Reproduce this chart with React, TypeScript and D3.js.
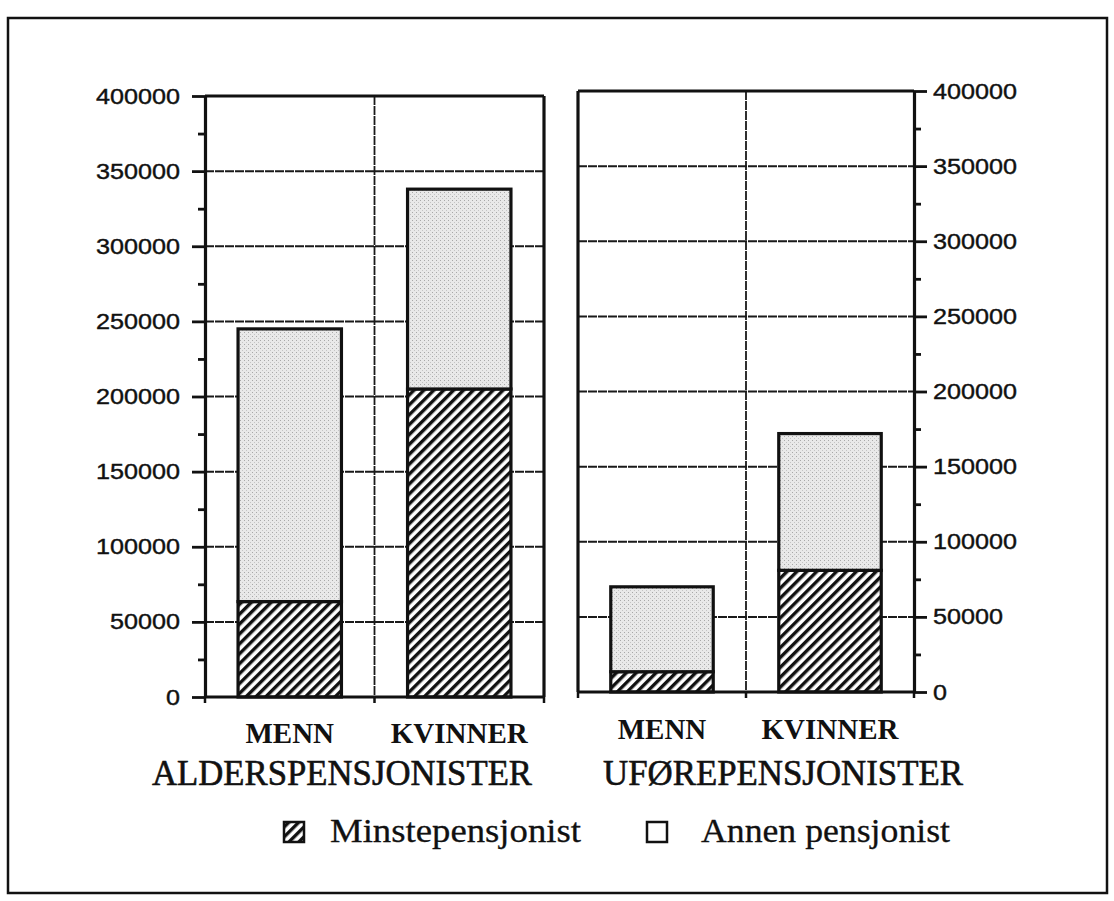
import React, { useEffect, useRef } from 'react';
import * as d3 from 'd3';

// data
const categories = ['MENN', 'KVINNER'];
const groupTitles = ['ALDERSPENSJONISTER', 'UFØREPENSJONISTER'];
const seriesNames = ['Minstepensjonist', 'Annen pensjonist'];
const alderMinste = [63500, 205000];
const alderAnnen = [181500, 133000];
const uforeMinste = [13500, 81000];
const uforeAnnen = [56500, 91000];
const yTicks = [0, 50000, 100000, 150000, 200000, 250000, 300000, 350000, 400000];
const minorTicks = [25000, 75000, 125000, 175000, 225000, 275000, 325000, 375000];

const serif = "'Liberation Serif', 'Times New Roman', serif";
const sans = "'Liberation Sans', Arial, sans-serif";

export default function App() {
  const ref = useRef<SVGSVGElement>(null);

  useEffect(() => {
    const svg = d3.select(ref.current);
    svg.selectAll('*').remove();

    const defs = svg.append('defs');
    const hatch = defs.append('pattern')
      .attr('id', 'hatch')
      .attr('patternUnits', 'userSpaceOnUse')
      .attr('width', 7)
      .attr('height', 7)
      .attr('patternTransform', 'rotate(45)');
    hatch.append('rect').attr('width', 7).attr('height', 7).attr('fill', '#fff');
    hatch.append('rect').attr('width', 3.4).attr('height', 7).attr('fill', '#111');

    const stipple = defs.append('pattern')
      .attr('id', 'stipple')
      .attr('patternUnits', 'userSpaceOnUse')
      .attr('width', 4)
      .attr('height', 4);
    stipple.append('rect').attr('width', 4).attr('height', 4).attr('fill', '#e9e9e9');
    stipple.append('rect').attr('width', 1).attr('height', 1).attr('fill', '#a8a8a8');
    stipple.append('rect').attr('x', 2).attr('y', 2).attr('width', 1).attr('height', 1).attr('fill', '#c4c4c4');

    // outer frame
    svg.append('rect')
      .attr('x', 8).attr('y', 18)
      .attr('width', 1099).attr('height', 875)
      .attr('fill', 'none').attr('stroke', '#111').attr('stroke-width', 2.5);

    const panels = [
      { title: groupTitles[0], minste: alderMinste, annen: alderAnnen, x0: 205, x1: 544, y0: 697, y1: 96, side: 'left', titleX: 342, titleLen: 380, labelY: 743 },
      { title: groupTitles[1], minste: uforeMinste, annen: uforeAnnen, x0: 578, x1: 914, y0: 692, y1: 91, side: 'right', titleX: 783, titleLen: 360, labelY: 739 }
    ];

    panels.forEach(p => {
      const x = d3.scaleBand().domain(categories).range([p.x0, p.x1]).paddingInner(0.39).paddingOuter(0.195);
      const y = d3.scaleLinear().domain([0, 400000]).range([p.y0, p.y1]);
      const bw = x.bandwidth();
      const mid = ((x('MENN') as number) + bw + (x('KVINNER') as number)) / 2;
      const g = svg.append('g');

      // grid
      g.selectAll('line.grid')
        .data(yTicks.filter(t => t > 0 && t < 400000))
        .join('line')
          .attr('class', 'grid')
          .attr('x1', p.x0).attr('x2', p.x1)
          .attr('y1', d => y(d)).attr('y2', d => y(d))
          .attr('stroke', '#1a1a1a').attr('stroke-width', 2).attr('stroke-dasharray', '9 1');
      g.append('line')
        .attr('x1', mid).attr('x2', mid)
        .attr('y1', p.y1).attr('y2', p.y0)
        .attr('stroke', '#1a1a1a').attr('stroke-width', 1.8).attr('stroke-dasharray', '9 1');

      // stacked bars
      const rows = categories.map((c, i) => ({ cat: c, minste: p.minste[i], annen: p.annen[i] }));
      const stacked = d3.stack<any>().keys(['minste', 'annen'])(rows);
      g.selectAll('g.layer')
        .data(stacked)
        .join('g')
          .attr('class', 'layer')
          .attr('fill', (d, i) => i === 0 ? 'url(#hatch)' : 'url(#stipple)')
        .selectAll('rect')
        .data(d => d)
        .join('rect')
          .attr('x', d => x(d.data.cat) as number)
          .attr('y', d => y(d[1]))
          .attr('width', bw)
          .attr('height', d => y(d[0]) - y(d[1]))
          .attr('stroke', '#111').attr('stroke-width', 3.2);

      // frame of the plot
      g.append('line').attr('x1', p.x0).attr('x2', p.x1).attr('y1', p.y1).attr('y2', p.y1)
        .attr('stroke', '#111').attr('stroke-width', 3.2);
      const otherX = p.side === 'left' ? p.x1 : p.x0;
      g.append('line').attr('x1', otherX).attr('x2', otherX).attr('y1', p.y1).attr('y2', p.y0)
        .attr('stroke', '#111').attr('stroke-width', 3.2);
      g.append('line').attr('x1', p.x0 - 1).attr('x2', p.x1 + 1).attr('y1', p.y0).attr('y2', p.y0)
        .attr('stroke', '#111').attr('stroke-width', 3.2);
      g.selectAll('line.xtick')
        .data([p.x0, mid, p.x1])
        .join('line')
          .attr('class', 'xtick')
          .attr('x1', d => d).attr('x2', d => d)
          .attr('y1', p.y0).attr('y2', p.y0 + 6)
          .attr('stroke', '#111').attr('stroke-width', 2.5);

      // y axis
      const axisX = p.side === 'left' ? p.x0 : p.x1;
      const axis = (p.side === 'left' ? d3.axisLeft(y) : d3.axisRight(y))
        .tickValues(yTicks)
        .tickSize(13)
        .tickSizeOuter(0)
        .tickPadding(p.side === 'left' ? 12 : 6)
        .tickFormat(d3.format('d'));
      const ag = g.append('g').attr('transform', `translate(${axisX},0)`).call(axis as any);
      ag.select('.domain').attr('stroke', '#111').attr('stroke-width', 3.2);
      ag.selectAll('.tick line').attr('stroke', '#111').attr('stroke-width', 2.8);
      ag.selectAll('.tick text')
        .attr('font-family', sans)
        .attr('font-size', 22)
        .attr('fill', '#111')
        .attr('stroke', '#111')
        .attr('stroke-width', 0.4)
        .attr('textLength', (d: any) => String(d).length * 14)
        .attr('lengthAdjust', 'spacingAndGlyphs');

      const minor = (p.side === 'left' ? d3.axisLeft(y) : d3.axisRight(y))
        .tickValues(minorTicks)
        .tickSize(7)
        .tickFormat(() => '');
      const mg = g.append('g').attr('transform', `translate(${axisX},0)`).call(minor as any);
      mg.select('.domain').remove();
      mg.selectAll('.tick line').attr('stroke', '#111').attr('stroke-width', 2.8);

      // category labels
      g.selectAll('text.cat')
        .data(categories)
        .join('text')
          .attr('class', 'cat')
          .attr('x', d => (x(d) as number) + bw / 2)
          .attr('y', p.labelY)
          .attr('text-anchor', 'middle')
          .attr('font-family', serif)
          .attr('font-weight', 'bold')
          .attr('font-size', 29)
          .attr('fill', '#111')
          .text(d => d);

      g.append('text')
        .attr('x', p.titleX)
        .attr('y', 785)
        .attr('text-anchor', 'middle')
        .attr('font-family', serif)
        .attr('font-size', 36)
        .attr('fill', '#111')
        .attr('stroke', '#111')
        .attr('stroke-width', 0.6)
        .attr('textLength', p.titleLen)
        .attr('lengthAdjust', 'spacingAndGlyphs')
        .text(p.title);
    });

    // legend
    const legend = svg.append('g');
    const items = [
      { name: seriesNames[0], fill: 'url(#hatch)', bx: 284, tx: 330, len: 251 },
      { name: seriesNames[1], fill: '#fff', bx: 647, tx: 701, len: 249 }
    ];
    items.forEach(it => {
      legend.append('rect')
        .attr('x', it.bx).attr('y', 822)
        .attr('width', 20).attr('height', 20)
        .attr('fill', it.fill)
        .attr('stroke', '#111').attr('stroke-width', 2.5);
      legend.append('text')
        .attr('x', it.tx).attr('y', 842)
        .attr('font-family', serif)
        .attr('font-size', 34)
        .attr('fill', '#111')
        .attr('stroke', '#111')
        .attr('stroke-width', 0.3)
        .attr('textLength', it.len)
        .attr('lengthAdjust', 'spacingAndGlyphs')
        .text(it.name);
    });
  }, []);

  return (
    <svg
      ref={ref}
      width={1114}
      height={901}
      style={{ position: 'absolute', left: 0, top: 0, background: '#fff' }}
    />
  );
}
